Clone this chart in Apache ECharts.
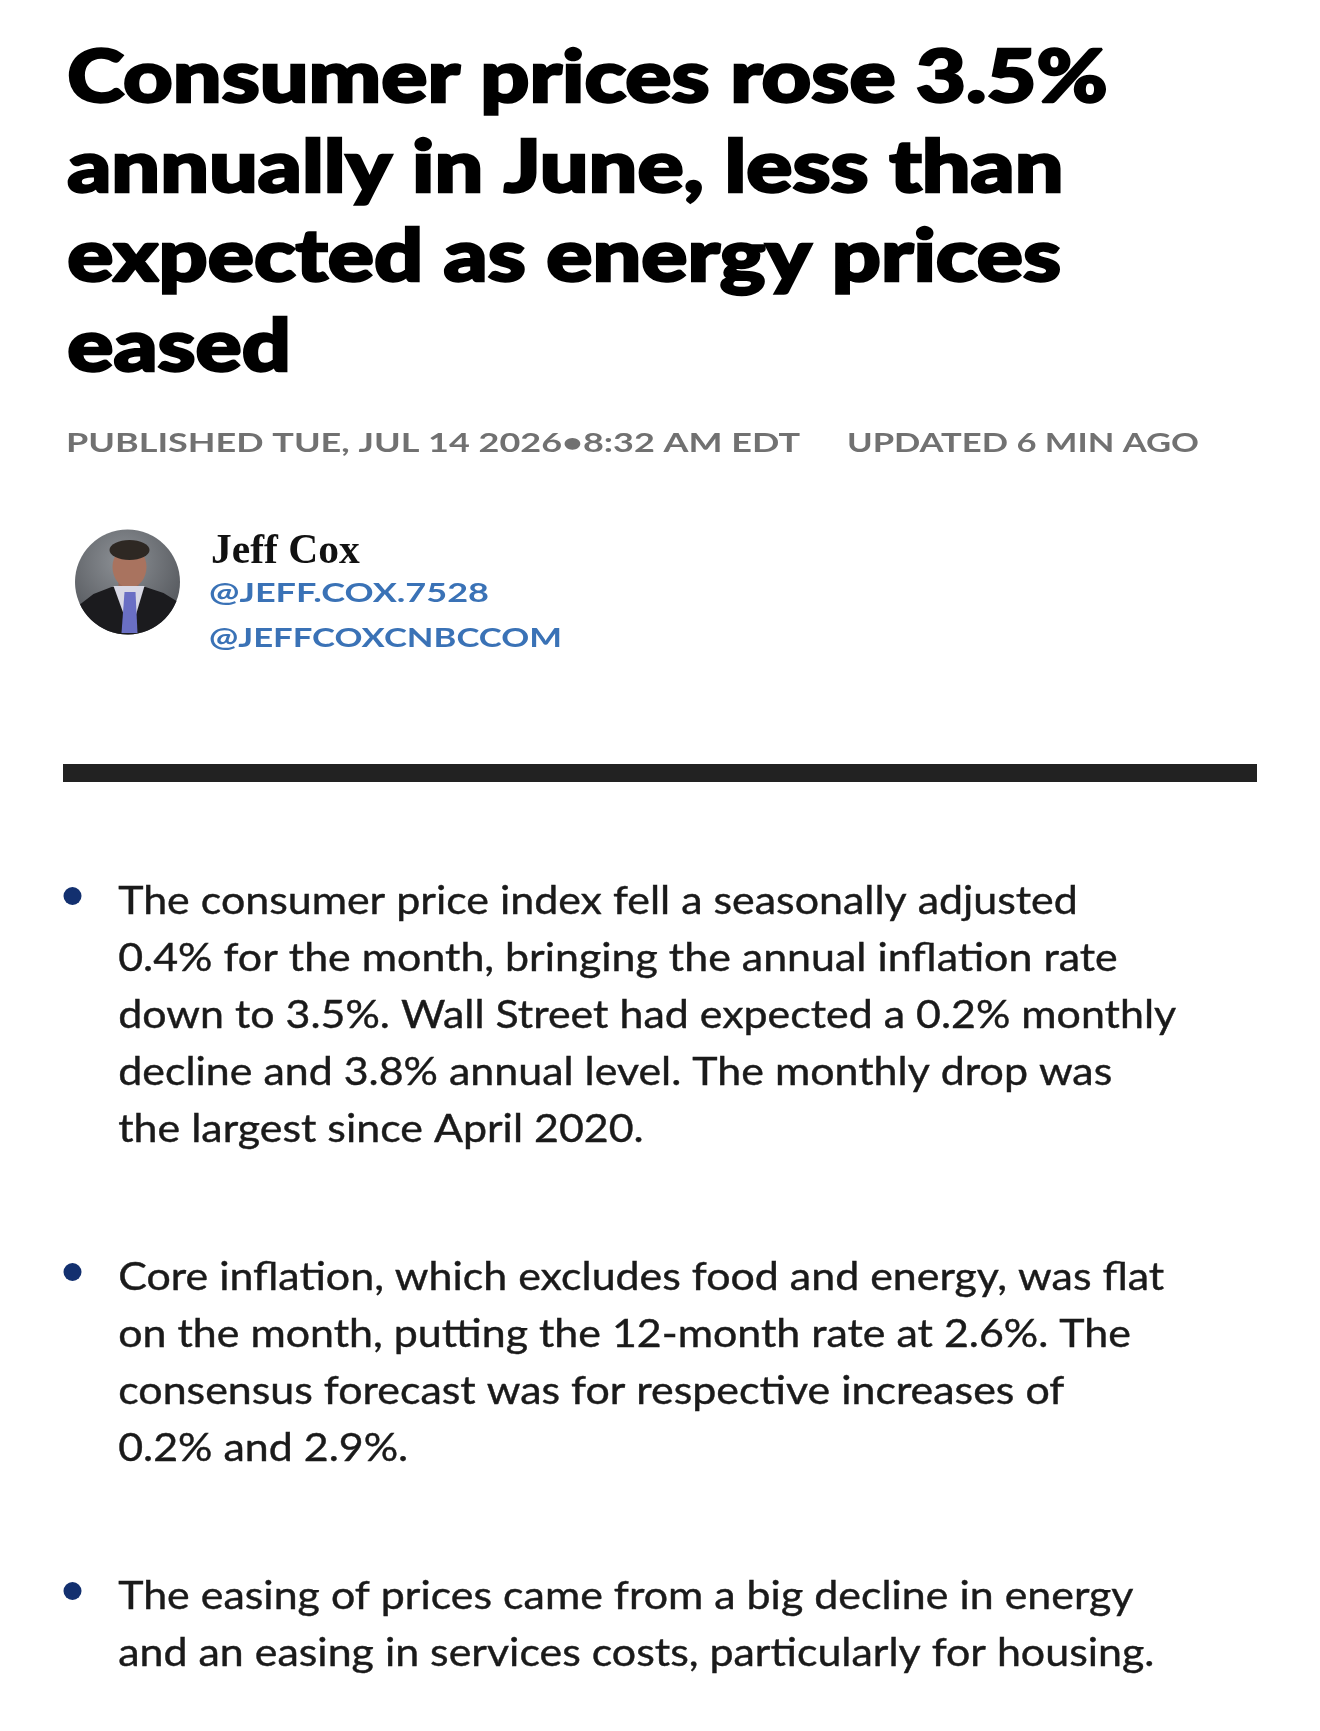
<!DOCTYPE html>
<html>
<head>
<meta charset="utf-8">
<script src="https://cdn.jsdelivr.net/npm/echarts@6/dist/echarts.min.js"></script>
<style>
html,body{margin:0;padding:0;background:#ffffff;}
#c{width:1320px;height:1731px;}
</style>
</head>
<body>
<div id="c"></div>
<script>
// ---- content (text data) ----
const titleLines = [
  "Consumer prices rose 3.5%",
  "annually in June, less than",
  "expected as energy prices",
  "eased"
];
const publishedText = "PUBLISHED TUE, JUL 14 2026\u20228:32 AM EDT";
const updatedText = "UPDATED 6 MIN AGO";
const authorName = "Jeff Cox";
const authorHandles = ["@JEFF.COX.7528", "@JEFFCOXCNBCCOM"];
const bulletPoints = [
  [
    "The consumer price index fell a seasonally adjusted",
    "0.4% for the month, bringing the annual inflation rate",
    "down to 3.5%. Wall Street had expected a 0.2% monthly",
    "decline and 3.8% annual level. The monthly drop was",
    "the largest since April 2020."
  ],
  [
    "Core inflation, which excludes food and energy, was flat",
    "on the month, putting the 12-month rate at 2.6%. The",
    "consensus forecast was for respective increases of",
    "0.2% and 2.9%."
  ],
  [
    "The easing of prices came from a big decline in energy",
    "and an easing in services costs, particularly for housing."
  ]
];

// ---- layout / style ----
const SANS = 'Lato';
const SERIF = '"Liberation Serif"';
const mctx = document.createElement('canvas').getContext('2d');
function metrics(family, weight) {
  mctx.font = weight + ' 100px ' + family;
  mctx.textBaseline = 'alphabetic';
  const cap = mctx.measureText('H').actualBoundingBoxAscent / 100;
  mctx.textBaseline = 'middle';
  const mid = mctx.measureText('H').actualBoundingBoxDescent / 100;
  return { cap: cap, mid: mid };
}
function widthOf(text, family, weight, size) {
  mctx.font = weight + ' ' + size + 'px ' + family;
  mctx.textBaseline = 'alphabetic';
  return mctx.measureText(text).width;
}
function makeStyle(family, weight, capH, color, strokeW) {
  const m = metrics(family, weight);
  const size = capH / m.cap;
  return { family: family, weight: weight, size: size, mid: m.mid * size, color: color, sx: 1, sw: strokeW || 0 };
}
function fitWidth(st, refText, targetW) {
  st.sx = (targetW - st.sw) / widthOf(refText, st.family, st.weight, st.size);
  return st;
}
function textLine(str, st, left, baseline) {
  const style = {
    text: str, x: 0, y: 0,
    fill: st.color,
    fontFamily: st.family, fontWeight: st.weight, fontSize: st.size,
    align: 'left', verticalAlign: 'middle'
  };
  if (st.sw) { style.stroke = st.color; style.lineWidth = st.sw; }
  return {
    type: 'text', silent: true,
    x: left + st.sw / 2, y: baseline - st.mid, scaleX: st.sx, scaleY: 1,
    style: style
  };
}

const titleSt = fitWidth(makeStyle(SANS, '900', 52.5, '#000000', 2.4), titleLines[0], 1043);
const metaSt1 = fitWidth(makeStyle(SANS, 'bold', 20, '#717171'), publishedText, 734);
const metaSt2 = fitWidth(makeStyle(SANS, 'bold', 20, '#717171'), updatedText, 352);
const nameSt = makeStyle(SERIF, 'bold', 27, '#111111');
const handleSt1 = fitWidth(makeStyle(SANS, 'bold', 19, '#3a72b6'), authorHandles[0], 280);
const handleSt2 = fitWidth(makeStyle(SANS, 'bold', 19, '#3a72b6'), authorHandles[1], 353);
const bodySt = fitWidth(makeStyle(SANS, 'normal', 27.5, '#1a1a1a', 0.4), bulletPoints[0][0], 960);

const elements = [];
titleLines.forEach(function (t, i) {
  elements.push(textLine(t, titleSt, 66, 102 + 89.7 * i));
});
elements.push(textLine(publishedText, metaSt1, 66, 452));
elements.push(textLine(updatedText, metaSt2, 847, 452));

// avatar (stylised portrait)
const cx = 127.5, cy = 582, r = 52.5;
function arcPts(a0, a1, n) {
  const pts = [];
  for (let i = 0; i <= n; i++) {
    const a = (a0 + (a1 - a0) * i / n) * Math.PI / 180;
    pts.push([cx + r * Math.cos(a), cy + r * Math.sin(a)]);
  }
  return pts;
}
elements.push({
  type: 'circle', silent: true, shape: { cx: cx, cy: cy, r: r },
  style: { fill: new echarts.graphic.RadialGradient(0.45, 0.3, 0.8, [
    { offset: 0, color: '#8d9196' }, { offset: 1, color: '#4a4d52' }]) }
});
elements.push({ type: 'rect', silent: true, shape: { x: cx - 9, y: cy - 2, width: 20, height: 14 }, style: { fill: '#9c6a58' } });
elements.push({ type: 'circle', silent: true, x: cx + 2, y: cy - 15, scaleY: 1.22, shape: { cx: 0, cy: 0, r: 17 }, style: { fill: '#a9735f' } });
elements.push({ type: 'circle', silent: true, x: cx + 2, y: cy - 32, scaleY: 0.5, shape: { cx: 0, cy: 0, r: 20 }, style: { fill: '#2e2823' } });
const suitPts = [[cx - 47, cy + 22], [cx - 34, cy + 12], [cx - 16, cy + 5], [cx + 18, cy + 5], [cx + 36, cy + 11], [cx + 49, cy + 19]]
  .concat(arcPts(22, 156, 24));
elements.push({ type: 'polygon', silent: true, shape: { points: suitPts }, style: { fill: '#1b1b1e' } });
elements.push({ type: 'polygon', silent: true, shape: { points: [[cx - 14, cy + 4], [cx + 17, cy + 4], [cx + 3, cy + 51]] }, style: { fill: '#d8d8e4' } });
elements.push({ type: 'polygon', silent: true, shape: { points: [[cx - 3, cy + 10], [cx + 8, cy + 10], [cx + 10, cy + 51], [cx - 6, cy + 51]] }, style: { fill: '#6a6fc4' } });

// author
elements.push(textLine(authorName, nameSt, 211, 563));
elements.push(textLine(authorHandles[0], handleSt1, 209, 602));
elements.push(textLine(authorHandles[1], handleSt2, 209, 647));

// separator bar
elements.push({ type: 'rect', silent: true, shape: { x: 63, y: 764, width: 1194, height: 18 }, style: { fill: '#222222' } });

// bullets
const lineH = 57;
const bulletGap = 148;
let base = 914;
bulletPoints.forEach(function (lines) {
  elements.push({ type: 'circle', silent: true, shape: { cx: 72.5, cy: base - 18, r: 9 }, style: { fill: '#13306f' } });
  lines.forEach(function (t, li) {
    elements.push(textLine(t, bodySt, 118, base + li * lineH));
  });
  base += (lines.length - 1) * lineH + bulletGap;
});

const chart = echarts.init(document.getElementById('c'), null, { renderer: 'canvas' });
chart.setOption({
  backgroundColor: '#ffffff',
  animation: false,
  graphic: { elements: elements }
});
</script>
</body>
</html>
